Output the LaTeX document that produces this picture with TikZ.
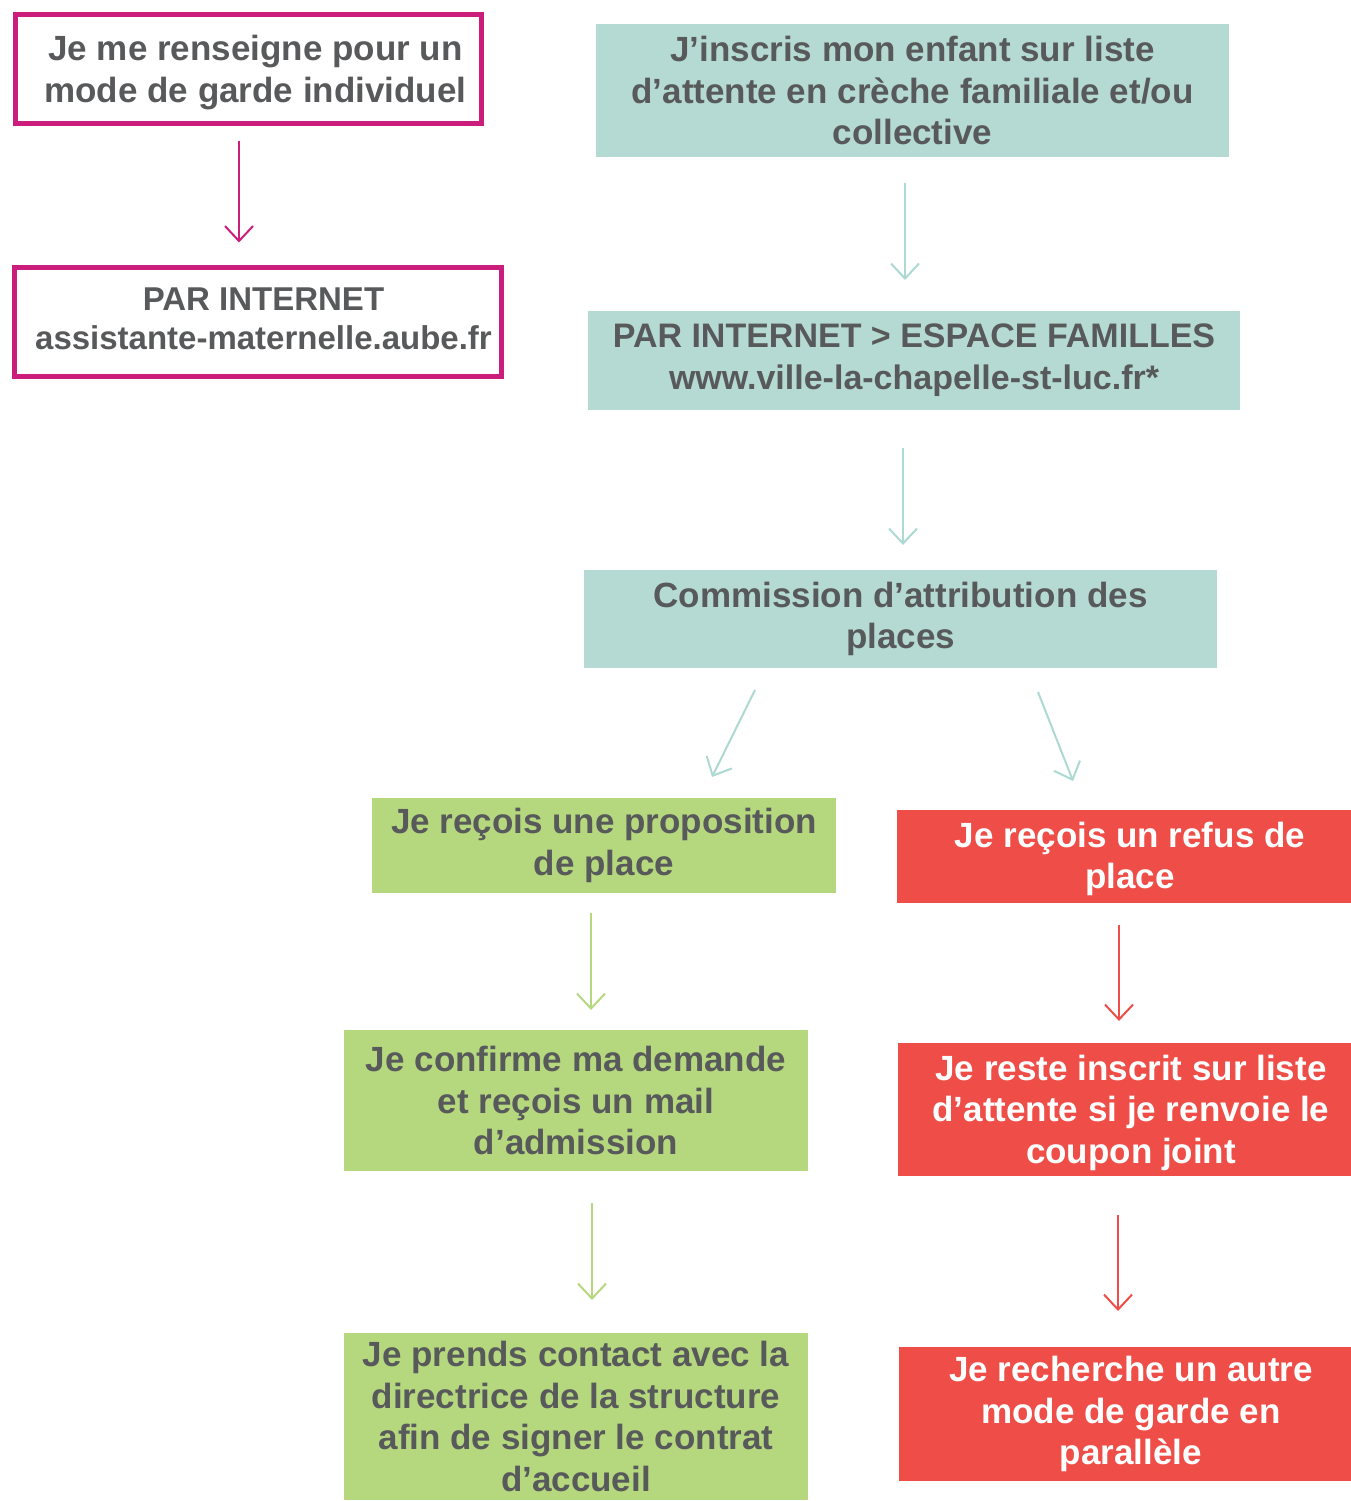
\documentclass[tikz,border=0pt]{standalone}
\usepackage{fontspec}
\setmainfont{Liberation Sans}
\usetikzlibrary{arrows.meta}
\definecolor{mag}{HTML}{CB1D7B}
\definecolor{tealf}{HTML}{B5DAD3}
\definecolor{teala}{HTML}{ACD9D1}
\definecolor{greenf}{HTML}{B5D87E}
\definecolor{redf}{HTML}{EF4E48}
\definecolor{txt}{HTML}{58595B}
\tikzset{
  box/.style={rectangle, inner sep=0pt, outer sep=0pt, align=center, font=\fontsize{35}{41.5}\selectfont\bfseries, text=txt},
  magbox/.style={box, draw=mag, line width=5pt},
  tealbox/.style={box, fill=tealf},
  greenbox/.style={box, fill=greenf},
  redbox/.style={box, fill=redf, text=white},
  arr/.style={line width=2pt, -{Straight Barb[length=15pt,width=28pt,line width=2pt]}},
  marr/.style={arr, draw=mag},
  tarr/.style={arr, draw=teala},
  garr/.style={arr, draw=greenf},
  rarr/.style={arr, draw=redf}
}
\begin{document}
\begin{tikzpicture}[x=1pt,y=-1pt]
\useasboundingbox (0,0) rectangle (1351,1501);
% left column
\node[magbox, minimum width=466pt, minimum height=109pt] (b1) at (248.5,69) {\hspace*{14pt}\rule{0pt}{32.5pt}Je me renseigne pour un\\\hspace*{14pt}mode de garde individuel};
\node[magbox, minimum width=487pt, minimum height=109pt, font=\fontsize{33}{39}\selectfont\bfseries] (b2) at (258,322) {\hspace*{11pt}PAR INTERNET\\\hspace*{11pt}assistante-maternelle.aube.fr\vphantom{p}};
% teal column
\node[tealbox, minimum width=633pt, minimum height=133pt] (t1) at (912.5,90.5) {J’inscris mon enfant sur liste\\d’attente en crèche familiale et/ou\\collective};
\node[tealbox, minimum width=652pt, minimum height=99pt, font=\fontsize{34}{42}\selectfont\bfseries] (t2) at (914,360.5) {PAR INTERNET > ESPACE FAMILLES\\www.ville-la-chapelle-st-luc.fr*};
\node[tealbox, minimum width=633pt, minimum height=98pt] (t3) at (900.5,619) {Commission d’attribution des\\places};
% green column
\node[greenbox, minimum width=464pt, minimum height=95pt] (g1) at (604,845.5) {Je reçois une proposition\\de place};
\node[greenbox, minimum width=464pt, minimum height=141pt] (g2) at (576,1100.5) {Je confirme ma demande\\et reçois un mail\\d’admission};
\node[greenbox, minimum width=464pt, minimum height=167pt] (g3) at (576,1416.5) {Je prends contact avec la\\directrice de la structure\\afin de signer le contrat\\d’accueil};
% red column (boxes run past the right edge)
\node[redbox, minimum width=466pt, minimum height=93pt] (r1) at (1130,856.5) {\rule{0pt}{30pt}Je reçois un refus de\\place};
\node[redbox, minimum width=466pt, minimum height=133pt] (r2) at (1131,1109.5) {\rule{0pt}{32pt}Je reste inscrit sur liste\\d’attente si je renvoie le\\coupon joint};
\node[redbox, minimum width=464pt, minimum height=134pt] (r3) at (1131,1414) {Je recherche un autre\\mode de garde en\\parallèle};
% connectors
\draw[marr] ([xshift=-9.5pt,yshift=-17pt]b1.south) -- ([xshift=-19pt,yshift=25pt]b2.north);
\draw[tarr] ([xshift=-7.5pt,yshift=-26pt]t1.south) -- ([xshift=-9pt,yshift=31pt]t2.north);
\draw[tarr] ([xshift=-11pt,yshift=-38pt]t2.south) -- ([xshift=2.5pt,yshift=25pt]t3.north);
\draw[tarr] ([xshift=-145.5pt,yshift=-22pt]t3.south) -- ([xshift=108pt,yshift=21pt]g1.north);
\draw[tarr] ([xshift=137.5pt,yshift=-24pt]t3.south) -- ([xshift=-57pt,yshift=29pt]r1.north);
\draw[garr] ([xshift=-13pt,yshift=-20pt]g1.south) -- ([xshift=15pt,yshift=20pt]g2.north);
\draw[garr] ([xshift=16pt,yshift=-32pt]g2.south) -- ([xshift=16pt,yshift=33pt]g3.north);
\draw[rarr] ([xshift=-11pt,yshift=-22pt]r1.south) -- ([xshift=-12pt,yshift=22pt]r2.north);
\draw[rarr] ([xshift=-13pt,yshift=-39pt]r2.south) -- ([xshift=-13pt,yshift=36pt]r3.north);
\end{tikzpicture}
\end{document}
